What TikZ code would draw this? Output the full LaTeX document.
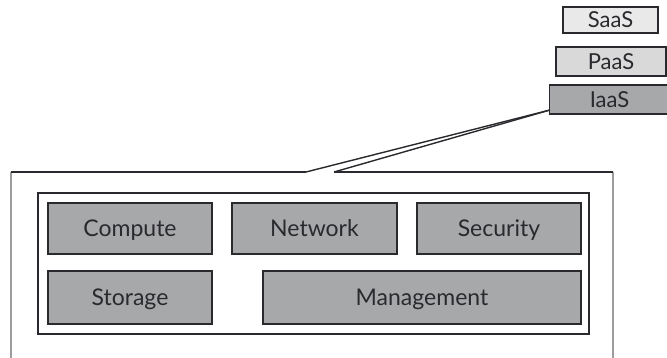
\documentclass[tikz,border=0pt]{standalone}
\usepackage{fontspec}
\setmainfont{Lato}
\definecolor{boxgray}{HTML}{A7A8AA}
\definecolor{saasgray}{HTML}{E9E9E9}
\definecolor{paasgray}{HTML}{D9D9D9}
\definecolor{sidegray}{HTML}{9C9C9C}
\definecolor{inkc}{HTML}{2A2A2E}
\begin{document}
\begin{tikzpicture}[x=1pt,y=-1pt,
  comp/.style={draw=inkc,line width=1.3pt,fill=boxgray,inner sep=0pt,
    text=inkc,font=\fontsize{23}{26}\selectfont,text height=16.5pt,text depth=0pt},
  layer/.style={draw=inkc,line width=1.3pt,inner sep=0pt,
    text=inkc,font=\fontsize{22}{25}\selectfont,text height=15.8pt,text depth=0pt},
  frame/.style={draw=inkc,line width=1.3pt,inner sep=0pt},
  side/.style={draw=sidegray,line width=2pt},
  link/.style={draw=inkc,line width=1.4pt}]
\useasboundingbox (0,0) rectangle (667,358);
% layers
\node[layer,fill=saasgray,minimum width=95pt,minimum height=26pt] (saas) at (610.5,20) {SaaS};
\node[layer,fill=paasgray,minimum width=110pt,minimum height=29pt] (paas) at (611,61.5) {PaaS};
\node[layer,fill=boxgray,minimum width=120pt,minimum height=29pt] (iaas) at (609.5,99.5) {IaaS};
% outer frame
\coordinate (otl) at (11,172);
\coordinate (ogl) at (306,172);
\coordinate (ogr) at (334,172);
\coordinate (otr) at (613,172);
\coordinate (obl) at (11,358);
\coordinate (obr) at (613,358);
\draw[side] (otl) -- (obl);
\draw[side] (otr) -- (obr);
\draw[frame] (otl) -- (ogl);
\draw[frame] (ogr) -- (otr);
% connectors from IaaS
\coordinate (ia) at (550,110);
\draw[link] (ia) -- (ogl);
\draw[link] (ia) -- (ogr);
% inner frame
\node[frame,minimum width=551pt,minimum height=141pt] (inner) at (313.5,263.5) {};
% components
\node[comp,minimum width=164pt,minimum height=51pt] (compute) at (130,228.5) {Compute};
\node[comp,minimum width=165pt,minimum height=51pt] (network) at (314.5,228.5) {Network};
\node[comp,minimum width=164pt,minimum height=51pt] (security) at (499,228.5) {Security};
\node[comp,minimum width=164pt,minimum height=53pt] (storage) at (130,297.5) {Storage};
\node[comp,minimum width=318pt,minimum height=53pt] (management) at (422,297.5) {Management};
\end{tikzpicture}
\end{document}
